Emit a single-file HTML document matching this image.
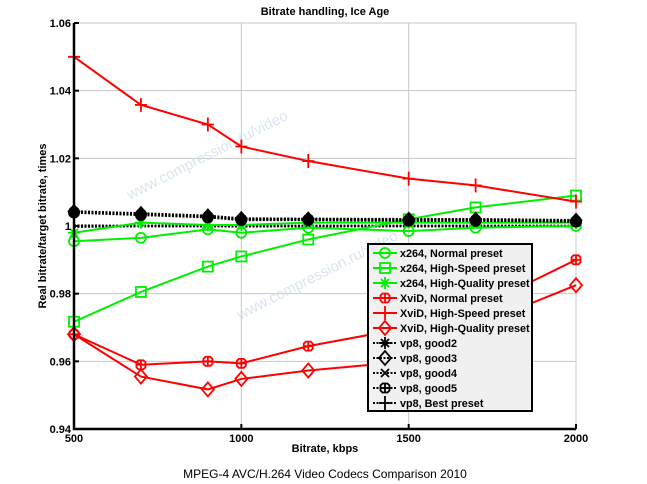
<!DOCTYPE html>
<html><head><meta charset="utf-8"><style>
body{margin:0;background:#fff}
svg{display:block;font-family:"Liberation Sans",Arial,sans-serif}
</style></head><body>
<svg id="chart" width="647" height="484" viewBox="0 0 647 484" xmlns="http://www.w3.org/2000/svg">
<rect width="647" height="484" fill="#fff"/>
<text x="325" y="15" font-size="11" font-weight="bold" text-anchor="middle">Bitrate handling, Ice Age</text>
<g id="grid"></g>
<g id="watermark" fill="#c8d8ec" font-size="15" opacity="0.7">
<text transform="translate(130,200) rotate(-27)">www.compression.ru/video</text>
<text transform="translate(240,320) rotate(-27)">www.compression.ru/video</text>
</g>
<g id="series"></g>
<g id="axes"></g>
<text transform="translate(46,226) rotate(-90)" font-size="11" font-weight="bold" text-anchor="middle">Real bitrate/target bitrate, times</text>
<text x="325" y="452" font-size="11" font-weight="bold" text-anchor="middle">Bitrate, kbps</text>
<text x="325" y="478" font-size="12" text-anchor="middle">MPEG-4 AVC/H.264 Video Codecs Comparison 2010</text>
<g id="legend"></g>
</svg>
<script>
const categories=[500,700,900,1000,1200,1500,1700,2000];
const x264Normal=[0.9955,0.9965,0.999,0.998,0.9995,0.9985,0.9995,1.0];
const x264HighSpeed=[0.9717,0.9805,0.988,0.991,0.996,1.002,1.0055,1.009];
const x264HighQuality=[0.998,1.001,1.0003,1.0003,1.001,1.001,1.001,1.001];
const xvidNormal=[0.968,0.959,0.960,0.9594,0.9645,0.970,0.9755,0.990];
const xvidHighSpeed=[1.050,1.0358,1.030,1.0235,1.0192,1.014,1.012,1.0072];
const xvidHighQuality=[0.968,0.9555,0.9517,0.9548,0.9573,0.960,0.9705,0.9825];
const vp8Good2=[1.0042,1.0035,1.0028,1.002,1.002,1.0018,1.0018,1.0015];
const vp8Good3=[1.0043,1.0037,1.003,1.0022,1.0021,1.002,1.002,1.0017];
const vp8Good4=[1.0001,1.0,1.0,1.0,1.0,1.0,1.0,1.0];
const vp8Good5=[1.004,1.0033,1.0026,1.0018,1.0018,1.0016,1.0016,1.0013];
const vp8Best=[0.9998,1.0,1.0,0.9999,1.0,1.0,1.0,1.0];
const xTicks=[500,1000,1500,2000];
const yTicks=[0.94,0.96,0.98,1,1.02,1.04,1.06];
const yTickLabels=["0.94","0.96","0.98","1","1.02","1.04","1.06"];
const legendLabels=["x264, Normal preset","x264, High-Speed preset","x264, High-Quality preset","XviD, Normal preset","XviD, High-Speed preset","XviD, High-Quality preset","vp8, good2","vp8, good3","vp8, good4","vp8, good5","vp8, Best preset"];

const X0=74,X1=576,Y0=429,Y1=23;
const xs=v=>X0+(v-500)/1500*(X1-X0);
const ys=v=>Y0-(v-0.94)/0.12*(Y0-Y1);
const NS="http://www.w3.org/2000/svg";
function mk(tag,attrs,parent){const e=document.createElementNS(NS,tag);for(const k in attrs)e.setAttribute(k,attrs[k]);parent.appendChild(e);return e;}
const grid=document.getElementById('grid'),axes=document.getElementById('axes'),ser=document.getElementById('series'),leg=document.getElementById('legend');
mk('rect',{x:X0,y:Y1,width:X1-X0,height:Y0-Y1,fill:'none',stroke:'#ccc','stroke-width':1},grid);
xTicks.forEach(t=>{const l=mk('line',{x1:xs(t),x2:xs(t),y1:Y1,y2:Y0,stroke:'#c8c8c8','stroke-width':1},grid);


const tk=mk('line',{x1:xs(t),x2:xs(t),y1:Y0,y2:Y0-5,stroke:'#000','stroke-width':2},axes);


const tx=mk('text',{x:xs(t),y:Y0+13,'font-size':11,'font-weight':'bold','text-anchor':'middle'},axes);tx.textContent=t;

});
yTicks.forEach((t,i)=>{const l=mk('line',{x1:X0,x2:X1,y1:ys(t),y2:ys(t),stroke:'#c8c8c8','stroke-width':1},grid);


const tk=mk('line',{x1:X0,x2:X0+5,y1:ys(t),y2:ys(t),stroke:'#000','stroke-width':2},axes);


const tx=mk('text',{x:X0-3,y:ys(t)+4,'font-size':11,'font-weight':'bold','text-anchor':'end'},axes);tx.textContent=yTickLabels[i];

});
const ax=mk('path',{d:`M${X0},${Y1}V${Y0}H${X1}`,fill:'none',stroke:'#000','stroke-width':2.5},axes);



function marker(g,type,cx,cy,color){
 const s={stroke:color,'stroke-width':1.8,fill:'none'};
 if(type==='circle')mk('circle',Object.assign({cx,cy,r:5},s),g);
 else if(type==='square')mk('rect',Object.assign({x:cx-5,y:cy-5,width:10,height:10},s),g);
 else if(type==='star'){mk('path',Object.assign({d:`M${cx-6},${cy}h12M${cx},${cy-6}v12M${cx-4},${cy-4}l8,8M${cx-4},${cy+4}l8,-8`},s),g);}
 else if(type==='hex'){mk('path',Object.assign({d:`M${cx-2.5},${cy-4.5}h5l2,2v5l-2,2h-5l-2,-2v-5z M${cx-5},${cy}h10M${cx},${cy-5}v10`},s),g);}
 else if(type==='plus')mk('path',Object.assign({d:`M${cx-6},${cy}h12M${cx},${cy-7}v14`},s),g);
 else if(type==='diamond')mk('path',Object.assign({d:`M${cx},${cy-7}l6,7l-6,7l-6,-7z`},s),g);
 else if(type==='fdiamond')mk('path',{d:`M${cx},${cy-7}l6,7l-6,7l-6,-7z`,fill:color,stroke:color},g);
 else if(type==='fhex')mk('circle',{cx,cy,r:5.5,fill:color,stroke:color},g);
 else if(type==='x')mk('path',Object.assign({d:`M${cx-4},${cy-4}l8,8M${cx-4},${cy+4}l8,-8`},s),g);
}
const G='#00ee00',R='#ff0000',K='#000';
const seriesList=[
 ['x264-normal',x264Normal,G,'circle',''],
 ['x264-high-speed',x264HighSpeed,G,'square',''],
 ['x264-high-quality',x264HighQuality,G,'star',''],
 ['xvid-normal',xvidNormal,R,'hex',''],
 ['xvid-high-speed',xvidHighSpeed,R,'plus',''],
 ['xvid-high-quality',xvidHighQuality,R,'diamond',''],
 ['vp8-good2',vp8Good2,K,'star','2,1.5'],
 ['vp8-good3',vp8Good3,K,'fdiamond','2,1.5'],
 ['vp8-good4',vp8Good4,K,'x','2,1.5'],
 ['vp8-good5',vp8Good5,K,'fhex','2,1.5'],
 ['vp8-best',vp8Best,K,'plus','2,1.5']];
const legendMarkers=['circle','square','star','hex','plus','diamond','star','diamond','x','hex','plus'];
const drawOrder=[8,10,0,1,2,3,4,5,6,9,7];
drawOrder.forEach(idx=>{
 const [name,vals,color,mkType,dash]=seriesList[idx];
 const g=mk('g',{},ser);
 
 
 const pts=categories.map((c,i)=>xs(c)+','+ys(vals[i])).join(' ');
 const a={points:pts,fill:'none',stroke:color,'stroke-width':dash?2.5:2};
 if(dash)a['stroke-dasharray']=dash;
 mk('polyline',a,g);
 if(name!=='vp8-good4'&&name!=='vp8-best')categories.forEach((c,i)=>marker(g,mkType,xs(c),ys(vals[i]),color));
});
// legend
const LX=368,LY=244,LW=164,LH=167;
const lb=mk('rect',{x:LX,y:LY,width:LW,height:LH,fill:'#f0f0f0',stroke:'#000','stroke-width':2},leg);


legendLabels.forEach((lab,i)=>{
 const y=LY+9+i*15;const col=seriesList[i][2];
 const g=mk('g',{},leg);
 
 
 const a={x1:LX+5,x2:LX+29,y1:y,y2:y,stroke:col,'stroke-width':2};
 if(i>=6)a['stroke-dasharray']='2,1.5';
 mk('line',a,g);
 marker(g,legendMarkers[i],LX+17,y,col);
 const t=mk('text',{x:LX+32,y:y+4,'font-size':10.8,'font-weight':'bold',textLength:0},g);t.textContent=lab;
 t.removeAttribute('textLength');
});
</script>
</body></html>
